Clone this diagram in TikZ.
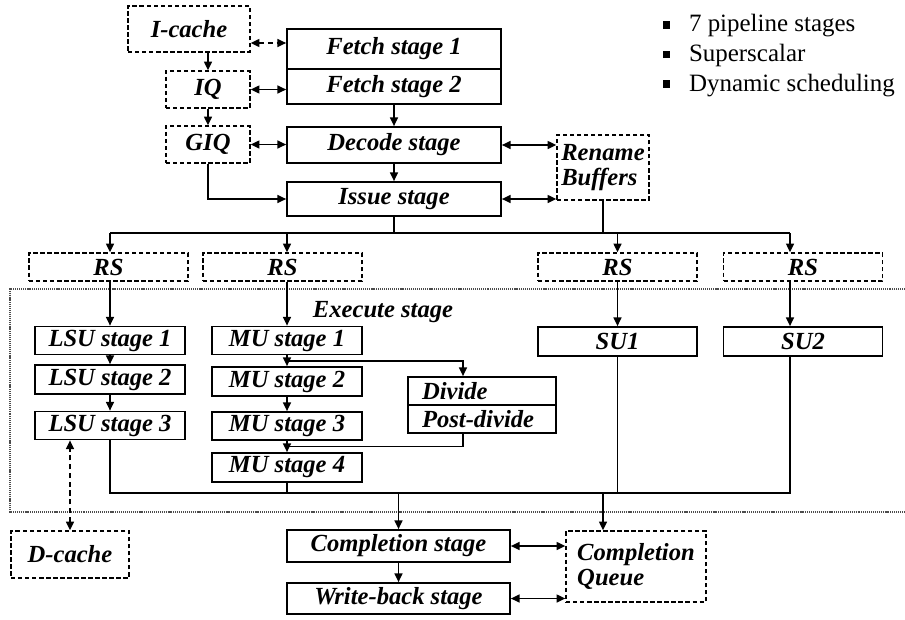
\documentclass[tikz,border=0pt]{standalone}
\usepackage{fontspec}
\setmainfont{Liberation Serif}
\usetikzlibrary{arrows.meta,calc}

\newcommand{\sqbul}{\rule[0.3ex]{0.3em}{0.3em}\hspace{0.75em}}

\begin{document}
\begin{tikzpicture}[
  x=0.02cm, y=-0.02cm, line width=0.95pt,
  font=\fontsize{14}{14.7}\selectfont\bfseries\itshape,
  arr/.style={-{Triangle[length=5pt,width=4.5pt]}},
  biarr/.style={{Triangle[length=5pt,width=4.5pt]}-{Triangle[length=5pt,width=4.5pt]}},
  dbiarr/.style={biarr, dash pattern=on 3pt off 2pt},
  ubox/.style={rectangle, draw, inner sep=0pt, align=center},
  qbox/.style={rectangle, draw, line width=0.75pt, dash pattern=on 2.5pt off 1.5pt,
               inner sep=0pt, align=left},
  dotline/.style={line width=1pt, black!70, dash pattern=on 0.6pt off 0.5pt},
]
\useasboundingbox (0,0) rectangle (905,619);

%% ===== Front end =====
\node[qbox, minimum width=2.44cm, minimum height=0.92cm] (icache) at (189,29) {I-cache};
\node[qbox, minimum width=1.68cm, minimum height=0.74cm] (iq) at (208,89.5) {IQ};
\node[qbox, minimum width=1.68cm, minimum height=0.74cm] (giq) at (208,144.5) {GIQ};

\node[ubox, minimum width=4.28cm, minimum height=0.80cm] (fetch1) at (394,49) {Fetch stage 1};
\node[ubox, minimum width=4.28cm, minimum height=0.70cm] (fetch2) at (394,86.5) {Fetch stage 2};
\node[ubox, minimum width=4.28cm, minimum height=0.72cm] (decode) at (394,145) {Decode stage};
\node[ubox, minimum width=4.28cm, minimum height=0.68cm] (issue) at (394,199) {Issue stage};

\node[qbox, minimum width=1.84cm, minimum height=1.30cm] (rename) at (603,167.5) {Rename\\Buffers};

\node[font=\fontsize{14.2}{16.8}\selectfont, inner sep=0pt, anchor=base west, align=left]
  (feats) at (662,91)
  {\sqbul 7 pipeline stages\\ \sqbul Superscalar\\ \sqbul Dynamic scheduling};

\draw[dbiarr] (icache.east |- 0,43) -- (fetch1.west |- 0,43);
\draw[biarr] (iq.east) -- (iq.east -| fetch2.west);
\draw[biarr] (giq.east) -- (giq.east -| decode.west);
\draw[arr] (iq.north |- icache.south) -- (iq.north);
\draw[arr] (iq.south) -- (giq.north);
\draw[arr] (giq.south) |- (issue.west);
\draw[arr] (fetch2.south) -- (decode.north);
\draw[arr] (decode.south) -- (issue.north);
\draw[biarr] (decode.east) -- (decode.east -| rename.west);
\draw[biarr] (issue.east) -- (issue.east -| rename.west);

%% ===== Reservation stations =====
\node[qbox, minimum width=3.18cm, minimum height=0.56cm] (rs1) at (108.5,267) {RS};
\node[qbox, minimum width=3.18cm, minimum height=0.56cm] (rs2) at (282.5,267) {RS};
\node[qbox, minimum width=3.18cm, minimum height=0.56cm] (rs3) at (617.5,267) {RS};
\node[qbox, minimum width=3.18cm, minimum height=0.56cm] (rs4) at (803,267) {RS};

%% ===== Execute stage =====
\draw[dotline] (905,289) -- (10,289) -- (10,512) -- (905,512);
\node (exlbl) at (383,312) {Execute stage};

\node[ubox, minimum width=3cm, minimum height=0.56cm] (lsu1) at (110,340.5) {LSU stage 1};
\node[ubox, minimum width=3cm, minimum height=0.58cm] (lsu2) at (110,379.5) {LSU stage 2};
\node[ubox, minimum width=3cm, minimum height=0.56cm] (lsu3) at (110,425.5) {LSU stage 3};

\node[ubox, minimum width=3cm, minimum height=0.56cm] (mu1) at (287,340.5) {MU stage 1};
\node[ubox, minimum width=3cm, minimum height=0.58cm] (mu2) at (287,381.5) {MU stage 2};
\node[ubox, minimum width=3cm, minimum height=0.56cm] (mu3) at (287,426) {MU stage 3};
\node[ubox, minimum width=3cm, minimum height=0.58cm] (mu4) at (287,467.5) {MU stage 4};

\node[ubox, minimum width=2.96cm, minimum height=0.56cm, text width=2.4cm, align=left]
  (divide) at (482,391) {Divide};
\node[ubox, minimum width=2.96cm, minimum height=0.56cm, text width=2.4cm, align=left]
  (pdiv) at (482,419) {Post-divide};

\node[ubox, minimum width=3.18cm, minimum height=0.58cm] (su1) at (617.5,341.5) {SU1};
\node[ubox, minimum width=3.18cm, minimum height=0.58cm] (su2) at (803,341.5) {SU2};

\coordinate (dbus) at (0,233);
\coordinate (su2x) at (790,0);
\coordinate (divx) at (463,0);

\draw (issue.south) -- (issue.south |- dbus);
\draw (rename.south) -- (rename.south |- dbus);
\draw (lsu1.north |- dbus) -- (su2x |- dbus);
\foreach \r/\u in {rs1/lsu1, rs2/mu1, rs3/su1} {
  \draw[arr] (\u.north |- dbus) -- (\u.north |- \r.north);
  \draw[arr] (\u.north |- \r.south) -- (\u.north);
}
\draw[arr] (su2x |- dbus) -- (su2x |- rs4.north);
\draw[arr] (su2x |- rs4.south) -- (su2x |- su2.north);

\draw[arr] (lsu1.south) -- (lsu2.north);
\draw[arr] (lsu2.south) -- (lsu3.north);
\draw[arr] (mu1.south) -- (mu2.north);
\draw[arr] (mu2.south) -- (mu3.north);
\draw[arr] (mu3.south) -- (mu4.north);
\draw[arr] ($(mu1.south)!.5!(mu2.north)$) -| (divx |- divide.north);
\draw (divx |- pdiv.south) |- ($(mu3.south)!.5!(mu4.north)$);

%% ===== Completion =====
\node[qbox, minimum width=2.36cm, minimum height=0.94cm] (dcache) at (70,554.5) {D-cache};
\node[ubox, minimum width=4.46cm, minimum height=0.64cm] (complete) at (398.5,546) {Completion stage};
\node[ubox, minimum width=4.46cm, minimum height=0.62cm] (wback) at (398.5,598.5) {Write-back stage};
\node[qbox, minimum width=2.8cm, minimum height=1.42cm] (cq) at (636,566.5) {Completion\\Queue};

\coordinate (cbus) at (0,493);
\draw (lsu3.south) |- (su2x |- cbus) -- (su2x |- su2.south);
\draw (mu4.south) -- (mu4.south |- cbus);
\draw (su1.south) -- (su1.south |- cbus);
\draw[arr] (complete.north |- cbus) -- (complete.north);
\draw[arr] (rename.south |- cbus) -- (rename.south |- cq.north);
\draw[arr] (complete.south) -- (wback.north);
\draw[biarr] (complete.east) -- (complete.east -| cq.west);
\draw[biarr] (wback.east) -- (wback.east -| cq.west);
\draw[dbiarr] (dcache.north) -- (dcache.north |- lsu3.south);

\end{tikzpicture}
\end{document}
